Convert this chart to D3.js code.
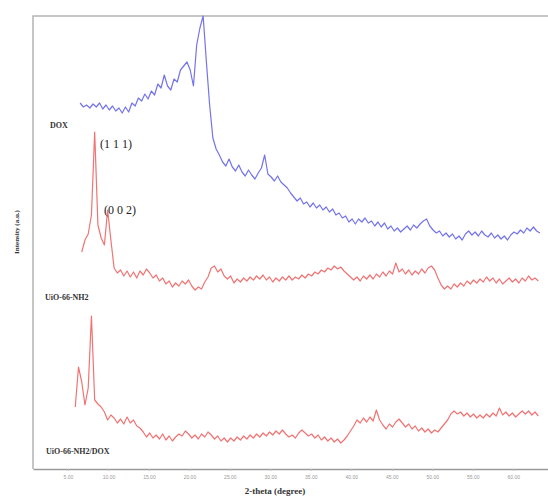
<!DOCTYPE html>
<html>
<head>
<meta charset="utf-8">
<script src="https://cdn.jsdelivr.net/npm/d3@7"></script>
<style>
  body { margin: 0; background: #fff; }
  svg { display: block; }
</style>
</head>
<body>
<div id="chart"></div>
<script>
// 2-theta grid: each pattern starts at its own angle, sampled every 0.4 degree
const step = 0.4;
const doxStart = 6.5;
const nh2Start = 6.7;
const mixStart = 5.9;

const tickValues = [5, 10, 15, 20, 25, 30, 35, 40, 45, 50, 55, 60];

// intensities (a.u., already stacked with offsets as in the figure)
const doxIntensity = [
  366, 362, 364, 361, 365, 362, 366, 360, 364, 359, 363, 358, 361, 356, 362, 357, 366, 363, 371, 368,
  375, 370, 378, 374, 385, 381, 394, 383, 379, 390, 387, 399, 403, 407, 399, 383, 424, 441, 453, 407,
  364, 331, 320, 314, 307, 303, 310, 302, 298, 304, 297, 293, 299, 294, 290, 296, 301, 314, 295, 292,
  288, 293, 287, 284, 281, 276, 272, 268, 271, 265, 267, 262, 266, 261, 264, 259, 262, 257, 260, 254,
  256, 251, 253, 247, 250, 245, 250, 247, 251, 246, 248, 243, 247, 242, 246, 240, 243, 238, 241, 237,
  240, 243, 239, 244, 241, 245, 248, 250, 243, 239, 236, 238, 233, 236, 232, 235, 230, 233, 229, 235,
  238, 234, 237, 233, 238, 234, 232, 236, 231, 234, 230, 233, 229, 234, 237, 235, 239, 236, 241, 238,
  242, 238, 236
];

const nh2Intensity = [
  217, 229, 235, 254, 337, 244, 231, 224, 259, 229, 201, 196, 199, 193, 198, 192, 197, 191, 198, 194,
  200, 196, 191, 194, 188, 191, 185, 188, 182, 186, 183, 188, 185, 189, 183, 179, 182, 180, 187, 192,
  201, 203, 197, 200, 193, 190, 193, 186, 190, 187, 191, 188, 192, 189, 193, 190, 194, 189, 192, 187,
  191, 188, 192, 189, 193, 189, 192, 190, 194, 191, 195, 193, 197, 195, 199, 197, 201, 199, 203, 200,
  202, 198, 195, 192, 189, 192, 188, 193, 190, 194, 190, 195, 192, 197, 193, 198, 195, 206, 197, 200,
  195, 199, 194, 198, 195, 200, 196, 201, 203, 199, 191, 184, 180, 183, 180, 185, 182, 186, 183, 188,
  185, 189, 186, 190, 187, 192, 188, 191, 186, 190, 185, 188, 191, 187, 190, 186, 191, 188, 193, 189,
  191, 188
];

const mixIntensity = [
  62, 102, 87, 64, 81, 153, 69, 65, 62, 57, 49, 54, 51, 46, 50, 45, 52, 46, 49, 43,
  41, 37, 32, 36, 31, 34, 30, 35, 29, 33, 28, 32, 35, 33, 38, 35, 31, 34, 30, 35,
  32, 37, 34, 30, 33, 28, 31, 27, 31, 28, 32, 29, 33, 30, 34, 31, 35, 32, 36, 33,
  37, 34, 38, 35, 39, 35, 32, 34, 31, 36, 39, 36, 33, 35, 31, 34, 29, 32, 28, 31,
  27, 30, 26, 29, 33, 38, 43, 49, 46, 51, 47, 52, 48, 59, 49, 44, 40, 45, 42, 47,
  50, 46, 42, 45, 40, 43, 38, 41, 37, 40, 36, 39, 37, 41, 45, 49, 55, 58, 55, 57,
  53, 56, 52, 55, 51, 54, 51, 55, 52, 56, 53, 61, 54, 57, 53, 56, 52, 55, 58, 55,
  58, 54, 57, 53
];

const seriesNames = ["DOX", "UiO-66-NH2", "UiO-66-NH2/DOX"];
const peakLabels = ["(1 1 1)", "(0 0 2)"];

function toPoints(start, values) {
  return values.map((v, i) => [start + i * step, v]);
}

const series = [
  {name: seriesNames[0], color: "#7474ea", points: toPoints(doxStart, doxIntensity)},
  {name: seriesNames[1], color: "#f07474", points: toPoints(nh2Start, nh2Intensity)},
  {name: seriesNames[2], color: "#f07474", points: toPoints(mixStart, mixIntensity)}
];

const width = 548, height = 498;
const marginLeft = 33, marginTop = 16, marginBottom = 29;

const x = d3.scaleLinear().domain([0.68, 64.3]).range([marginLeft, width]);
const y = d3.scaleLinear().domain([0, 453]).range([height - marginBottom, marginTop]);

const svg = d3.select("#chart").append("svg")
    .attr("width", width)
    .attr("height", height)
    .attr("viewBox", [0, 0, width, height]);

// frame (left + top), the bottom is the axis
svg.append("path")
    .attr("d", `M${marginLeft},${height - marginBottom}V${marginTop}H${width}`)
    .attr("fill", "none")
    .attr("stroke", "#b4b4b4")
    .attr("stroke-width", 1.5);

const xAxis = d3.axisBottom(x)
    .tickValues(tickValues)
    .tickFormat(d3.format(".2f"))
    .tickSize(2)
    .tickSizeOuter(0);

svg.append("g")
    .attr("transform", `translate(0,${height - marginBottom})`)
    .call(xAxis)
    .call(g => g.select(".domain").attr("stroke", "#9a9a9a").attr("stroke-width", 1.5))
    .call(g => g.selectAll(".tick line").attr("stroke", "#bbb"))
    .call(g => g.selectAll(".tick text")
        .attr("fill", "#9a9a9a")
        .attr("font-size", 5)
        .attr("font-family", "Liberation Sans")
        .attr("dy", "0.9em"));

const line = d3.line()
    .x(d => x(d[0]))
    .y(d => y(d[1]));

svg.append("g")
    .selectAll("path")
    .data(series)
    .join("path")
    .attr("fill", "none")
    .attr("stroke", d => d.color)
    .attr("stroke-width", 1.2)
    .attr("stroke-linejoin", "round")
    .attr("d", d => line(d.points));

// series labels
const labelPos = [[50, 128], [45, 300], [46, 454]];
svg.append("g")
    .attr("font-family", "Liberation Serif")
    .attr("font-weight", "bold")
    .attr("font-size", 8)
    .attr("fill", "#333")
    .selectAll("text")
    .data(seriesNames)
    .join("text")
    .attr("x", (d, i) => labelPos[i][0])
    .attr("y", (d, i) => labelPos[i][1])
    .text(d => d);

// peak annotations
const peakPos = [[100, 148], [104, 214]];
svg.append("g")
    .attr("font-family", "Liberation Serif")
    .attr("font-size", 12)
    .attr("fill", "#222")
    .selectAll("text")
    .data(peakLabels)
    .join("text")
    .attr("x", (d, i) => peakPos[i][0])
    .attr("y", (d, i) => peakPos[i][1])
    .text(d => d);

// axis titles
svg.append("text")
    .attr("x", 275)
    .attr("y", 494)
    .attr("text-anchor", "middle")
    .attr("font-family", "Liberation Serif")
    .attr("font-weight", "bold")
    .attr("font-size", 9)
    .attr("fill", "#333")
    .text("2-theta (degree)");

svg.append("text")
    .attr("transform", "translate(19,232) rotate(-90)")
    .attr("text-anchor", "middle")
    .attr("font-family", "Liberation Serif")
    .attr("font-weight", "bold")
    .attr("font-size", 7)
    .attr("fill", "#333")
    .text("Intensity (a.u.)");
</script>
</body>
</html>
